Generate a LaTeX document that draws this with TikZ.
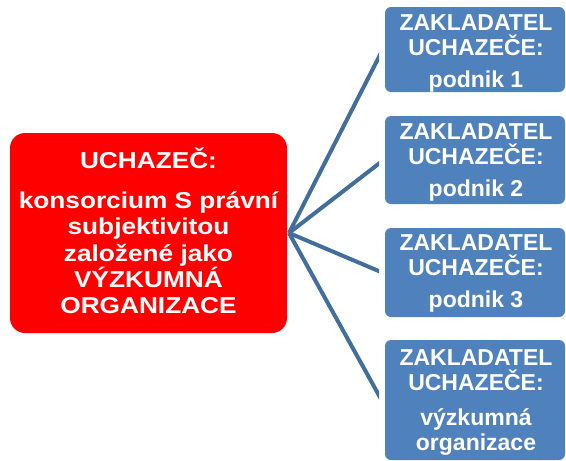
\documentclass[tikz,border=0pt]{standalone}
\usepackage{fontspec}
\setmainfont{Liberation Sans}
\newfontfamily\redfont{Liberation Sans}[FakeStretch=1.14]
\definecolor{boxblue}{HTML}{4F81BD}
\definecolor{lineblue}{RGB}{65,110,155}
\definecolor{boxred}{HTML}{FF0000}
\tikzset{
  redbox/.style={fill=boxred, draw=none, rounded corners=15pt, inner sep=0pt},
  bluebox/.style={fill=boxblue, draw=none, rounded corners=6pt, inner sep=0pt, minimum width=180pt},
  redtxt/.style={text=white, font=\redfont\bfseries\fontsize{23}{26}\selectfont, anchor=base, inner sep=0pt},
  bluetxt/.style={text=white, font=\bfseries\fontsize{23}{26}\selectfont, anchor=base, inner sep=0pt},
  conn/.style={draw=lineblue, line width=4pt}
}
\begin{document}
\begin{tikzpicture}[x=1pt,y=-1pt]
\useasboundingbox (0,0) rectangle (566,461);
% red box
\node[redbox, minimum width=277pt, minimum height=200pt] (uch) at (148.5,233) {};
\node[redtxt] (r1) at (148.5,168) {UCHAZEČ:};
\node[redtxt] (r2) at (148.5,208) {konsorcium S právní};
\node[redtxt] (r3) at (148.5,234.5) {subjektivitou};
\node[redtxt] (r4) at (148.5,261) {založené jako};
\node[redtxt] (r5) at (148.5,287) {VÝZKUMNÁ};
\node[redtxt] (r6) at (148.5,313) {ORGANIZACE};
% blue boxes
\node[bluebox, minimum height=85pt] (b1) at (475,49.5) {};
\node[bluebox, minimum height=88pt] (b2) at (475,160) {};
\node[bluebox, minimum height=89pt] (b3) at (475,272.5) {};
\node[bluebox, minimum height=120pt] (b4) at (475,400) {};
\node[bluetxt] (b1a) at (476,30) {ZAKLADATEL};
\node[bluetxt] (b1b) at (476,55) {UCHAZEČE:};
\node[bluetxt] (b1c) at (476,87) {podnik 1};
\node[bluetxt] (b2a) at (476,139) {ZAKLADATEL};
\node[bluetxt] (b2b) at (476,164) {UCHAZEČE:};
\node[bluetxt] (b2c) at (476,196) {podnik 2};
\node[bluetxt] (b3a) at (476,250) {ZAKLADATEL};
\node[bluetxt] (b3b) at (476,275) {UCHAZEČE:};
\node[bluetxt] (b3c) at (476,307) {podnik 3};
\node[bluetxt] (b4a) at (476,365) {ZAKLADATEL};
\node[bluetxt] (b4b) at (476,390) {UCHAZEČE:};
\node[bluetxt] (b4c) at (476,425) {výzkumná};
\node[bluetxt] (b4d) at (476,450) {organizace};
% connectors
\coordinate (hub) at (289,233);
\coordinate (e1) at (381,53);
\coordinate (e2) at (381,162);
\coordinate (e3) at (381,272);
\coordinate (e4) at (381,399);
\begin{scope}
\clip (287,0) rectangle (379,461);
\draw[conn] (hub) -- (e1);
\draw[conn] (hub) -- (e2);
\draw[conn] (hub) -- (e3);
\draw[conn] (hub) -- (e4);
\end{scope}
\end{tikzpicture}
\end{document}
